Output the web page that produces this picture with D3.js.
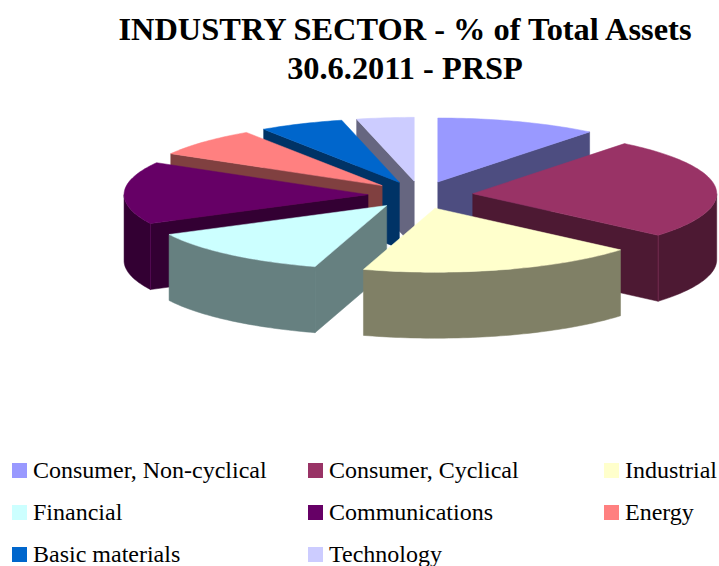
<!DOCTYPE html>
<html>
<head>
<meta charset="utf-8">
<script src="https://cdn.jsdelivr.net/npm/d3@7/dist/d3.min.js"></script>
<style>
html,body{margin:0;padding:0;background:#fff;overflow:hidden}
svg{display:block}
text{font-family:"Liberation Serif","Times New Roman",serif;fill:#000}
</style>
</head>
<body>
<svg id="chart" width="719" height="566"></svg>
<script>
const categories = ["Consumer, Non-cyclical","Consumer, Cyclical","Industrial","Financial","Communications","Energy","Basic materials","Technology"];
const values = [10.7,25.6,18.5,12.8,15.8,7.3,5.6,3.8];
const topColors = ["#9999FF","#993366","#FFFFCC","#CCFFFF","#660066","#FF8080","#0066CC","#CCCCFF"];
const wallColors = ["#4D4D80","#4D1933","#808066","#668080","#330033","#804040","#003366","#666680"];
const titleLines = ["INDUSTRY SECTOR - % of Total Assets","30.6.2011 - PRSP"];

const cx=420.5, cy=195, rx=244, ry=64, depth=66, explode=0.215;
const svg=d3.select("#chart");

const arcs=d3.pie().sort(null).value(d=>d)(values).map((a,i)=>({...a,i,mid:(a.startAngle+a.endAngle)/2}));
const line=d3.line();
const sx=d3.scaleLinear().domain([-1,1]).range([cx-rx,cx+rx]);
const sy=d3.scaleLinear().domain([-1,1]).range([cy-ry,cy+ry]);

function pt(a,ang,r,dz){
  return [sx(explode*Math.sin(a.mid)+r*Math.sin(ang)), sy(-explode*Math.cos(a.mid)-r*Math.cos(ang))+dz];
}
function arcPts(a,a0,a1,dz){
  const n=Math.max(2,Math.ceil((a1-a0)/0.02));
  return d3.range(n+1).map(k=>pt(a,a0+(a1-a0)*k/n,1,dz));
}
const order=arcs.slice().sort((p,q)=>Math.cos(q.mid)-Math.cos(p.mid));
const g=svg.append("g");
order.forEach(a=>{
  const wall=wallColors[a.i], top=topColors[a.i];
  const face=pts=>g.append("path").attr("d",line(pts)+"Z").attr("fill",wall).attr("stroke",wall).attr("stroke-width",0.5);
  if(Math.sin(a.startAngle)<-1e-6){
    face([pt(a,0,0,0),pt(a,a.startAngle,1,0),pt(a,a.startAngle,1,depth),pt(a,0,0,depth)]);
  }
  if(Math.sin(a.endAngle)>1e-6){
    face([pt(a,0,0,0),pt(a,a.endAngle,1,0),pt(a,a.endAngle,1,depth),pt(a,0,0,depth)]);
  }
  const f0=Math.max(a.startAngle,Math.PI/2), f1=Math.min(a.endAngle,Math.PI*1.5);
  if(f1>f0){
    face(arcPts(a,f0,f1,0).concat(arcPts(a,f0,f1,depth).reverse()));
    if(d3.lab(wall).l<30){
      [a.startAngle,a.endAngle].filter(t=>t>f0-1e-6&&t<f1+1e-6&&(Math.sin(t)*(t===a.startAngle?-1:1))>1e-6).forEach(t=>{
        g.append("path").attr("d",line([pt(a,t,1,0),pt(a,t,1,depth)])).attr("stroke",top).attr("stroke-opacity",0.7).attr("stroke-width",0.7).attr("fill","none");
      });
    }
  }
  g.append("path").attr("d",line([pt(a,0,0,0),...arcPts(a,a.startAngle,a.endAngle,0)])+"Z")
    .attr("fill",top).attr("stroke",top).attr("stroke-width",0.5);
});

svg.selectAll(".t").data(titleLines).enter().append("text")
  .attr("x",405).attr("y",(d,i)=>40+i*39).attr("text-anchor","middle")
  .attr("font-size",32.4).attr("font-weight","bold").text(d=>d);

const colX=d3.scalePoint().domain([0,1,2]).range([12,604]);
const rowY=d3.scalePoint().domain([0,1,2]).range([463,547]);
const leg=svg.selectAll(".l").data(categories).enter().append("g")
  .attr("transform",(d,i)=>`translate(${colX(i%3)},${rowY(Math.floor(i/3))})`);
leg.append("rect").attr("width",15).attr("height",15).attr("fill",(d,i)=>topColors[i]);
leg.append("text").attr("x",21).attr("y",15).attr("font-size",24).text(d=>d);
</script>
</body>
</html>
